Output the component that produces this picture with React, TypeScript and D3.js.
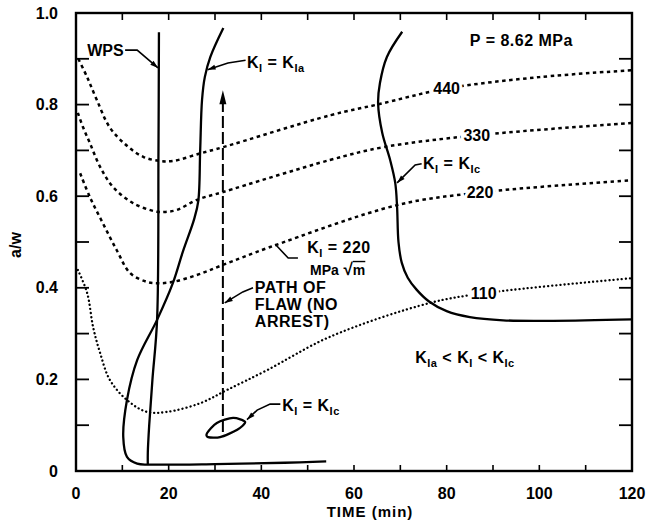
import * as d3 from 'd3'

// contour curves of constant K_I (time in min, a/w)
const k440 = [[0.5, 0.9], [2.4, 0.86], [4.5, 0.81], [7.3, 0.75], [11, 0.71], [14.5, 0.686], [18, 0.677], [21, 0.677], [27, 0.694], [31.7, 0.707], [55, 0.777], [65, 0.8], [80, 0.835], [100, 0.86], [120, 0.875]]
const k330 = [[0.4, 0.782], [1.5, 0.751], [3, 0.716], [5.2, 0.664], [8, 0.62], [12.3, 0.585], [17.5, 0.566], [19.6, 0.566], [21.8, 0.57], [26.1, 0.592], [31.7, 0.609], [54.8, 0.679], [66.3, 0.707], [86.5, 0.733], [120, 0.76]]
const k220 = [[0.9, 0.65], [3, 0.598], [5.8, 0.541], [8.8, 0.482], [11.7, 0.432], [15.3, 0.413], [17.7, 0.41], [21, 0.413], [26.1, 0.428], [31.7, 0.45], [41.9, 0.489], [69.5, 0.581], [87, 0.608], [120, 0.635]]
const k110 = [[0.4, 0.439], [2.4, 0.389], [3.7, 0.314], [5.2, 0.258], [7.3, 0.199], [11, 0.155], [15.3, 0.129], [19.6, 0.129], [26.8, 0.148], [32.6, 0.177], [41.2, 0.22], [54.8, 0.293], [76.4, 0.367], [88, 0.388], [120, 0.421]]

const kia = [[31.8, 0.967], [29, 0.904], [27.8, 0.86], [27.2, 0.81], [26.8, 0.7], [26.4, 0.59], [25.5, 0.55], [23.1, 0.48], [20.9, 0.41], [17.5, 0.33], [13.2, 0.242], [11, 0.155], [10.2, 0.074], [11, 0.031], [13.2, 0.016], [16, 0.014], [30, 0.015], [45, 0.018], [54, 0.021]]
const wps = [[17.9, 0.958], [17.8, 0.7], [17.5, 0.33], [16.5, 0.2], [15.8, 0.1], [15.5, 0.04], [15.5, 0.014]]
const kic = [[70.4, 0.959], [67.1, 0.904], [65.6, 0.847], [65.2, 0.803], [66.1, 0.738], [67.8, 0.679], [68.9, 0.629], [69.3, 0.576], [69.6, 0.5], [70.3, 0.455], [71.6, 0.422], [73.5, 0.396], [76.2, 0.37], [80, 0.349], [85, 0.336], [92.2, 0.329], [103, 0.328], [120, 0.331]]
const kicLoop = [[28.3, 0.083], [30.4, 0.105], [33.9, 0.116], [36.5, 0.107], [34.8, 0.09], [31.1, 0.074], [28.5, 0.074]]
const flawPath = [[31.7, 0.085], [31.7, 0.805]]

const xTicks = [0, 20, 40, 60, 80, 100, 120]
const yTicks = [0, 0.2, 0.4, 0.6, 0.8, 1.0]

const font = "'Liberation Sans', Arial, sans-serif"
const fs = 16

const x = d3.scaleLinear().domain([0, 120]).range([76, 632])
const y = d3.scaleLinear().domain([0, 1]).range([471, 13])

const smooth = d3.line().x((d: any) => x(d[0])).y((d: any) => y(d[1])).curve(d3.curveCatmullRom.alpha(0.5))
const straight = d3.line().x((d: any) => x(d[0])).y((d: any) => y(d[1]))
const loop = d3.line().x((d: any) => x(d[0])).y((d: any) => y(d[1])).curve(d3.curveCardinalClosed.tension(0.2))

// leader with arrowhead at its last point
const Leader = ({ pts }: { pts: number[][] }) => {
  const p = pts.map((d) => [x(d[0]), y(d[1])])
  const [a, b] = [p[p.length - 2], p[p.length - 1]]
  const ang = Math.atan2(b[1] - a[1], b[0] - a[0])
  const L = 8, W = 2.5
  const bx = b[0] - L * Math.cos(ang), by = b[1] - L * Math.sin(ang)
  const head = `M${b[0]},${b[1]}L${bx - W * Math.sin(ang)},${by + W * Math.cos(ang)}L${bx + W * Math.sin(ang)},${by - W * Math.cos(ang)}Z`
  return (
    <g>
      <path d={straight(pts as any) || ''} fill="none" stroke="#000" strokeWidth={1.6} />
      <path d={head} fill="#000" />
    </g>
  )
}

const Sub = ({ children }: { children: string }) => (
  <tspan fontSize={11} dy={4}>{children}</tspan>
)

const KEq = ({ t, a, rhs }: { t: number; a: number; rhs: string }) => (
  <text x={x(t)} y={y(a)} dy="0.35em" fontSize={fs} fontWeight="bold" fontFamily={font} letterSpacing={0.5}>
    K<Sub>I</Sub><tspan dy={-4}> = K</tspan><Sub>{rhs}</Sub>
  </text>
)

const CurveLabel = ({ t, a, s }: { t: number; a: number; s: string }) => (
  <text x={x(t)} y={y(a)} dy="0.36em" textAnchor="middle" fontSize={fs} fontWeight="bold" fontFamily={font}
    stroke="#fff" strokeWidth={6} paintOrder="stroke">{s}</text>
)

export default function App() {
  const arrowTop = flawPath[1]
  const ax = x(arrowTop[0]), ay = y(arrowTop[1])
  return (
    <svg width={647} height={521} style={{ position: 'absolute', left: 0, top: 0, background: '#fff' }}>
      {/* contour lines */}
      <path d={smooth(k440 as any) || ''} fill="none" stroke="#000" strokeWidth={2.5} strokeDasharray="3.5 3.5" />
      <path d={smooth(k330 as any) || ''} fill="none" stroke="#000" strokeWidth={2.5} strokeDasharray="3.5 3.5" />
      <path d={smooth(k220 as any) || ''} fill="none" stroke="#000" strokeWidth={2.5} strokeDasharray="3.5 3.5" />
      <path d={smooth(k110 as any) || ''} fill="none" stroke="#000" strokeWidth={2.3} strokeDasharray="0.1 4" strokeLinecap="round" />
      <CurveLabel t={80} a={0.835} s="440" />
      <CurveLabel t={86.5} a={0.733} s="330" />
      <CurveLabel t={87.2} a={0.608} s="220" />
      <CurveLabel t={88} a={0.388} s="110" />

      {/* solid boundaries */}
      <path d={smooth(kia as any) || ''} fill="none" stroke="#000" strokeWidth={2.3} />
      <path d={smooth(wps as any) || ''} fill="none" stroke="#000" strokeWidth={2.3} />
      <path d={smooth(kic as any) || ''} fill="none" stroke="#000" strokeWidth={2.3} />
      <path d={loop(kicLoop as any) || ''} fill="none" stroke="#000" strokeWidth={2.3} />

      {/* path of flaw */}
      <path d={straight(flawPath as any) || ''} fill="none" stroke="#000" strokeWidth={2} strokeDasharray="12 4" />
      <path d={`M${ax},${ay - 12}L${ax - 3.5},${ay + 2}L${ax + 3.5},${ay + 2}Z`} fill="#000" />

      {/* frame and ticks */}
      <rect x={x(0)} y={y(1)} width={x(120) - x(0)} height={y(0) - y(1)} fill="none" stroke="#000" strokeWidth={2.4} />
      {d3.range(10, 120, 10).map((t) => (
        <g key={'xt' + t}>
          <line x1={x(t)} x2={x(t)} y1={y(1)} y2={y(1) + 7} stroke="#000" strokeWidth={1.6} />
          <line x1={x(t)} x2={x(t)} y1={y(0)} y2={y(0) - 6} stroke="#000" strokeWidth={1.6} />
        </g>
      ))}
      {d3.range(0.1, 1, 0.1).map((v) => (
        <g key={'yt' + v}>
          <line x1={x(0)} x2={x(0) + 13} y1={y(v)} y2={y(v)} stroke="#000" strokeWidth={1.8} />
          <line x1={x(120)} x2={x(120) - 13} y1={y(v)} y2={y(v)} stroke="#000" strokeWidth={1.8} />
        </g>
      ))}
      {xTicks.map((t) => (
        <text key={'xl' + t} x={x(t)} y={y(0) + 28} textAnchor="middle" fontSize={fs} fontWeight="bold" fontFamily={font}>{t}</text>
      ))}
      {yTicks.map((v) => (
        <text key={'yl' + v} x={x(0) - 18} y={y(v)} dy="0.35em" textAnchor="end" fontSize={fs} fontWeight="bold" fontFamily={font}>
          {v === 0 ? '0' : v.toFixed(1)}
        </text>
      ))}
      <text x={370} y={517} textAnchor="middle" fontSize={15} fontWeight="bold" fontFamily={font} letterSpacing={1}>TIME (min)</text>
      <text transform="translate(21,245) rotate(-90)" textAnchor="middle" fontSize={fs} fontWeight="bold" fontFamily={font}>a/w</text>

      {/* annotations */}
      <text x={x(10.3)} y={y(0.919)} dy="0.35em" textAnchor="end" fontSize={fs} fontWeight="bold" fontFamily={font}>WPS</text>
      <Leader pts={[[10.6, 0.919], [13.2, 0.919], [17.7, 0.88]]} />

      <KEq t={36.9} a={0.893} rhs="Ia" />
      <Leader pts={[[36.6, 0.897], [32.8, 0.891], [28.4, 0.876]]} />

      <text x={x(85)} y={y(0.941)} dy="0.35em" fontSize={fs} fontWeight="bold" fontFamily={font} letterSpacing={0.5}>P = 8.62 MPa</text>

      <KEq t={74.9} a={0.672} rhs="Ic" />
      <Leader pts={[[74.6, 0.671], [73.2, 0.668], [69.3, 0.629]]} />

      <text x={x(49.9)} y={y(0.489)} dy="0.35em" fontSize={fs} fontWeight="bold" fontFamily={font} letterSpacing={0.5}>
        K<Sub>I</Sub><tspan dy={-4}> = 220</tspan>
      </text>
      <text x={x(50.5)} y={y(0.439)} dy="0.35em" fontSize={14} fontWeight="bold" fontFamily={font}>
        MPa<tspan fontSize={17}> √</tspan><tspan textDecoration="overline">m</tspan>
      </text>
      <path d={straight([[47.9, 0.465], [45.8, 0.465], [43, 0.495]] as any) || ''} fill="none" stroke="#000" strokeWidth={1.6} />

      {['PATH OF', 'FLAW (NO', 'ARREST)'].map((s, i) => (
        <text key={s} x={x(38.6)} y={y(0.4 - i * 0.037)} dy="0.35em" fontSize={fs} fontWeight="bold" fontFamily={font} letterSpacing={0.5}>{s}</text>
      ))}
      <Leader pts={[[38.2, 0.4], [36, 0.391], [32.1, 0.367]]} />

      <KEq t={44.5} a={0.144} rhs="Ic" />
      <Leader pts={[[44.1, 0.146], [41.9, 0.146], [39.1, 0.133], [36.9, 0.112]]} />

      <text x={x(73.2)} y={y(0.247)} dy="0.35em" fontSize={fs} fontWeight="bold" fontFamily={font} letterSpacing={0.5}>
        K<Sub>Ia</Sub><tspan dy={-4}> &lt; K</tspan><Sub>I</Sub><tspan dy={-4}> &lt; K</tspan><Sub>Ic</Sub>
      </text>
    </svg>
  )
}
